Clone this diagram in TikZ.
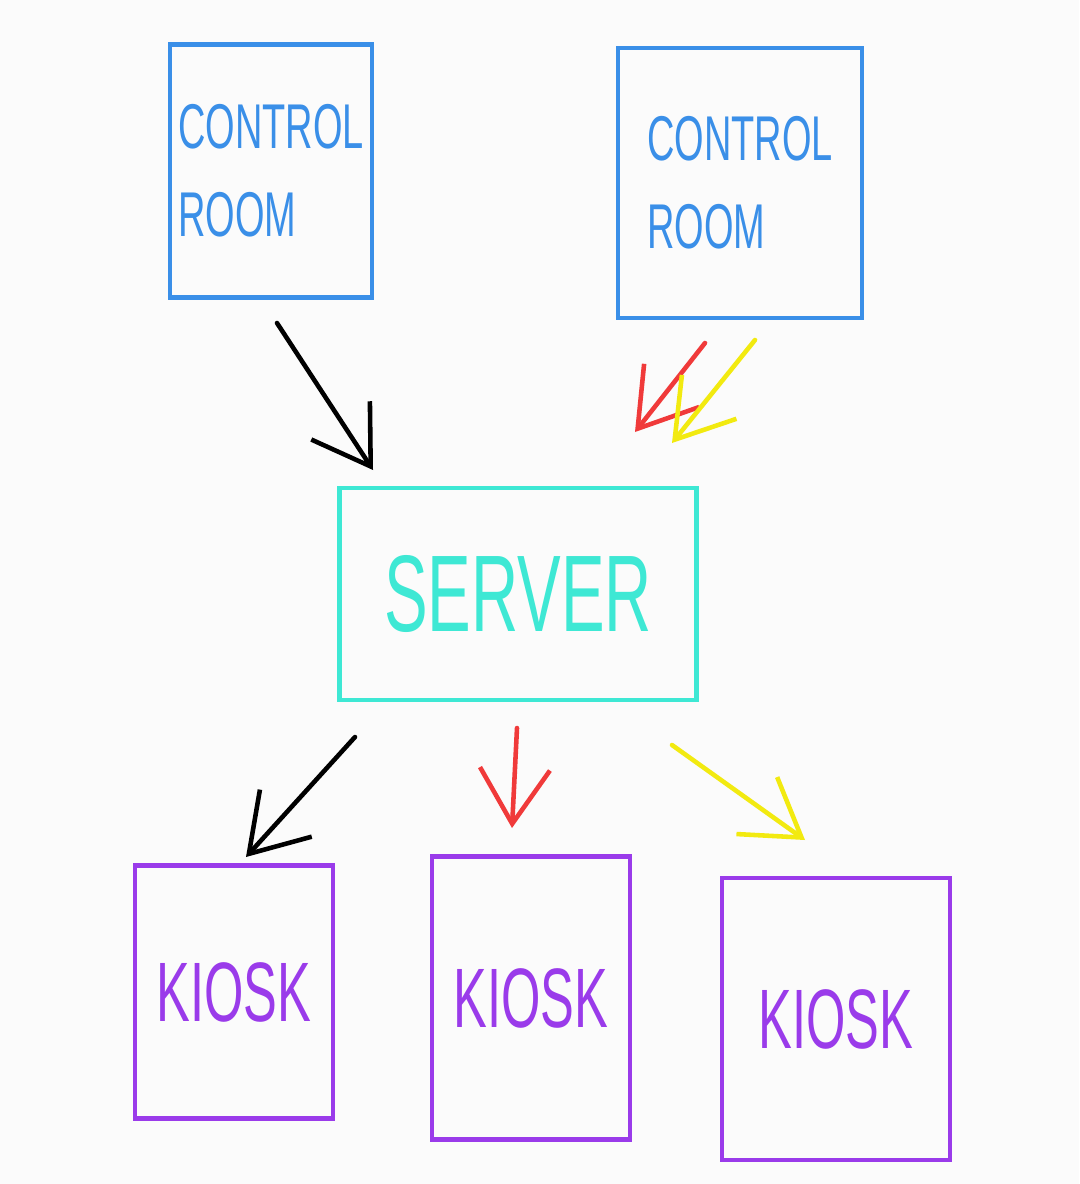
\documentclass[tikz,border=0pt]{standalone}
\usepackage{fontspec}
\usetikzlibrary{arrows.meta}
\newfontfamily\hand[FakeStretch=0.6]{Liberation Sans}
\definecolor{roomblue}{RGB}{58,143,232}
\definecolor{servercyan}{RGB}{62,232,212}
\definecolor{kioskpurple}{RGB}{154,59,234}
\definecolor{arrowred}{RGB}{240,58,58}
\definecolor{arrowyellow}{RGB}{242,234,16}
\definecolor{paper}{RGB}{251,251,251}
\begin{document}
\begin{tikzpicture}[
        box/.style={draw, line width=1.3pt, align=left, inner sep=0pt},
        room/.style={box, draw=roomblue, text=roomblue, font=\hand\fontsize{18}{25}\selectfont},
        srv/.style={box, draw=servercyan, text=servercyan, font=\hand\fontsize{31}{33}\selectfont},
        kiosk/.style={box, draw=kioskpurple, text=kioskpurple, font=\hand\fontsize{24}{28}\selectfont},
        link/.style={line width=1.3pt, line cap=round, -{Straight Barb[length=5.5mm, width=7mm]}},
    ]
    \fill[paper] (0,0) rectangle (10.79,-11.84);
    \useasboundingbox (0,0) rectangle (10.79,-11.84);

    \node[room, minimum width=2.02cm, minimum height=2.53cm](room1) at (2.71,-1.71){CONTROL\\ROOM};
    \node[room, minimum width=2.44cm, minimum height=2.70cm](room2) at (7.40,-1.83){CONTROL\\ROOM};
    \node[srv, minimum width=3.57cm, minimum height=2.12cm](server) at (5.18,-5.94){SERVER};
    \node[kiosk, minimum width=1.98cm, minimum height=2.53cm](kiosk1) at (2.34,-9.92){KIOSK};
    \node[kiosk, minimum width=1.98cm, minimum height=2.83cm](kiosk2) at (5.31,-9.98){KIOSK};
    \node[kiosk, minimum width=2.28cm, minimum height=2.82cm](kiosk3) at (8.36,-10.19){KIOSK};

    % arrow ends
    \coordinate (in1a) at (2.77,-3.23);
    \coordinate (in1b) at (3.73,-4.70);
    \coordinate (in2a) at (7.05,-3.43);
    \coordinate (in2b) at (6.35,-4.32);
    \coordinate (in3a) at (7.55,-3.40);
    \coordinate (in3b) at (6.72,-4.43);
    \coordinate (out1a) at (3.55,-7.37);
    \coordinate (out1b) at (2.46,-8.57);
    \coordinate (out2a) at (5.17,-7.28);
    \coordinate (out2b) at (5.12,-8.28);
    \coordinate (out3a) at (6.72,-7.45);
    \coordinate (out3b) at (8.05,-8.40);

    \draw[link, black] (in1a) -- (in1b);
    \draw[link, arrowred] (in2a) -- (in2b);
    \draw[link, arrowyellow] (in3a) -- (in3b);
    \draw[link, black] (out1a) -- (out1b);
    \draw[link, arrowred] (out2a) -- (out2b);
    \draw[link, arrowyellow] (out3a) -- (out3b);

    \end{tikzpicture}
\end{document}
